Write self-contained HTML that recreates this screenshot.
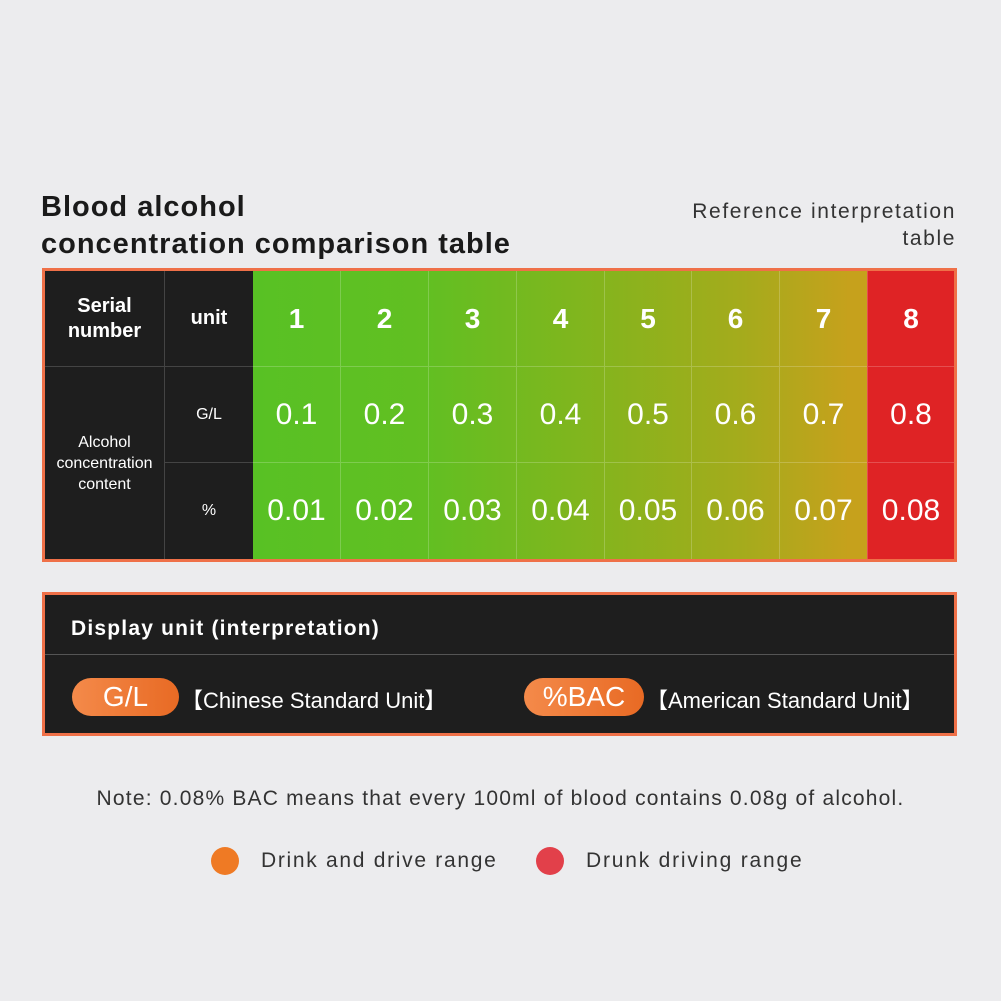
<!DOCTYPE html>
<html><head><meta charset="utf-8"><style>
body{margin:0;width:1001px;height:1001px;background:#ececee;position:relative;font-family:"Liberation Sans",sans-serif;overflow:hidden}
.a{position:absolute}
.t{color:#1a1a1a;font-weight:bold;font-size:29px;letter-spacing:1px;line-height:37px;left:41px;top:189px}
.r{right:45px;top:198px;text-align:right;font-size:21px;letter-spacing:1.6px;line-height:27px;color:#333}
.tab{left:42px;top:268px;width:909px;height:288px;border:3px solid #ef7048;background:#1e1e1e}
.c{position:absolute;display:flex;align-items:center;justify-content:center;text-align:center;color:#fff;box-sizing:border-box}
.g{left:208px;top:0;width:701px;height:288px;background:linear-gradient(90deg,#58c124 0%,#62bf22 25%,#85b41d 50%,#a5ab1c 70%,#c6a11c 85%,#c9a11c 100%)}
.box{left:42px;top:592px;width:909px;height:138px;border:3px solid #ef7048;background:#1e1e1e}
.pill{position:absolute;background:linear-gradient(90deg,#f48a4a,#e86a24);border-radius:20px;color:#fff;font-size:28px;display:flex;align-items:center;justify-content:center;height:38px}
.dot{width:28px;height:28px;border-radius:50%}
</style></head><body>
<div class="a t">Blood alcohol<br>concentration comparison table</div>
<div class="a r">Reference interpretation<br>table</div>
<div class="a tab">
 <div class="c g" style="position:absolute"></div>
 <div class="c" style="left:822px;top:0;width:87px;height:288px;background:#df2325"></div>
 <div class="c" style="left:0;top:0;width:119px;height:95px;font-weight:bold;font-size:20px;line-height:25px">Serial<br>number</div>
 <div class="c" style="left:119px;top:0;width:89px;height:95px;font-weight:bold;font-size:20px;border-left:1px solid #444">unit</div>
 <div class="c" style="left:0;top:95px;width:119px;height:193px;font-size:16px;line-height:21px;border-top:1px solid #444">Alcohol<br>concentration<br>content</div>
 <div class="c" style="left:119px;top:95px;width:89px;height:96px;font-size:16px;border-left:1px solid #444;border-top:1px solid #444">G/L</div>
 <div class="c" style="left:119px;top:191px;width:89px;height:97px;font-size:16px;border-left:1px solid #444;border-top:1px solid #444">%</div>
 <div id="cols"></div>
</div>
<div class="a box">
 <div class="a" style="left:26px;top:22px;color:#fff;font-weight:bold;font-size:21px;letter-spacing:1.2px">Display unit (interpretation)</div>
 <div class="a" style="left:0;top:59px;width:909px;height:1px;background:#555"></div>
 <div class="pill" style="left:27px;top:83px;width:107px">G/L</div>
 <div class="a" style="left:136px;top:88px;color:#fff;font-size:22px">【Chinese Standard Unit】</div>
 <div class="pill" style="left:479px;top:83px;width:120px">%BAC</div>
 <div class="a" style="left:601px;top:88px;color:#fff;font-size:22px">【American Standard Unit】</div>
</div>
<div class="a" style="left:0;width:1001px;top:787px;text-align:center;font-size:21px;letter-spacing:1.2px;color:#333">Note: 0.08% BAC means that every 100ml of blood contains 0.08g of alcohol.</div>
<div class="a dot" style="left:211px;top:847px;background:#ef7a24"></div>
<div class="a" style="left:261px;top:849px;font-size:21px;letter-spacing:1.7px;color:#333">Drink and drive range</div>
<div class="a dot" style="left:536px;top:847px;background:#e2404a"></div>
<div class="a" style="left:586px;top:849px;font-size:21px;letter-spacing:1.8px;color:#333">Drunk driving range</div>
<script>
var xs=[208,295,383,471,559,646,734,822,909],h='';
for(var i=0;i<8;i++){var l=xs[i],w=xs[i+1]-l,b=i?'border-left:1px solid rgba(255,255,255,.2);':'';
h+='<div class="c" style="left:'+l+'px;top:0;width:'+w+'px;height:95px;font-size:28px;font-weight:bold;'+b+'">'+(i+1)+'</div>';
h+='<div class="c" style="left:'+l+'px;top:95px;width:'+w+'px;height:96px;font-size:30px;border-top:1px solid rgba(255,255,255,.2);'+b+'">0.'+(i+1)+'</div>';
h+='<div class="c" style="left:'+l+'px;top:191px;width:'+w+'px;height:97px;font-size:30px;border-top:1px solid rgba(255,255,255,.2);'+b+'">0.0'+(i+1)+'</div>';}
document.getElementById('cols').innerHTML=h;
</script>
</body></html>
